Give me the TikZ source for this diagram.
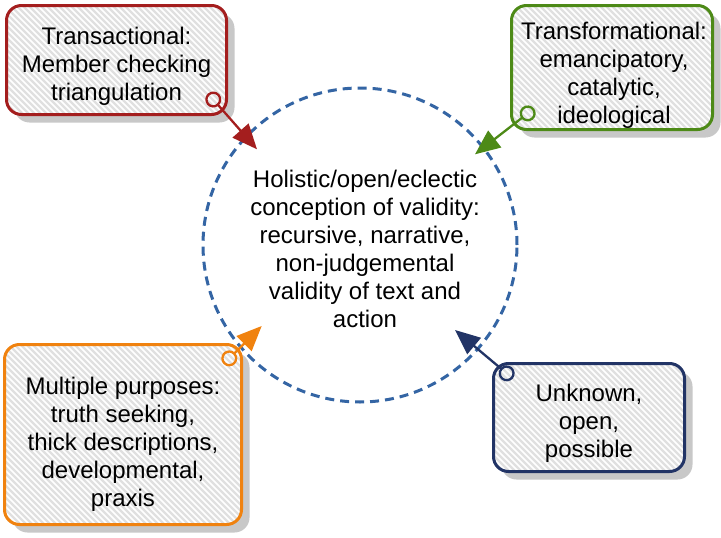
\documentclass[tikz,border=0pt]{standalone}
\usepackage{fontspec}
\setmainfont{Liberation Sans}
\usetikzlibrary{arrows.meta,positioning,calc,shadows}
\definecolor{vdred}{HTML}{A41E1E}
\definecolor{vdgreen}{HTML}{4D8A17}
\definecolor{vdorange}{HTML}{F0820F}
\definecolor{vdnavy}{HTML}{223466}
\definecolor{vdblue}{HTML}{3465A4}
\definecolor{vdhatch}{HTML}{E0E0E0}
\definecolor{vdshadow}{HTML}{C8C8C8}

\begin{document}
\begin{tikzpicture}[x=1pt,y=-1pt,
      box/.style={draw,line width=3pt,rounded corners=15pt,inner sep=0pt,fill=white,
        path picture={\foreach \k in {-200,-194,...,250}
          \draw[vdhatch,line width=2.2pt] ($(path picture bounding box.north west)+(\k,0)$) -- ++(220,220);},
        drop shadow={shadow xshift=8pt,shadow yshift=-8pt,fill=vdshadow,opacity=1}},
      txt/.style={align=center,font=\fontsize{24}{28}\selectfont},
      link/.style={{Circle[open,length=16pt]}-{Triangle[length=25pt,width=21pt]},line width=2.3pt}]
    \path[use as bounding box,fill=white] (0,0) rectangle (721,538);
    % centre: conception of validity
    \node[circle,draw=vdblue,line width=3pt,dash pattern=on 9pt off 6pt,minimum size=314pt] (valid) at (360,245) {};
    \node[txt] (validtxt) at (365,249)
      {Holistic/open/eclectic\\conception of validity:\\recursive, narrative,\\non-judgemental\\validity of text and\\action};
    % the four boxes
    \node[box,draw=vdred,minimum width=220pt,minimum height=109pt] (trans) at (116.5,60) {};
    \node[txt] (transtxt) at (116.5,66) {Transactional:\\Member checking\\triangulation};
    \node[box,draw=vdgreen,minimum width=201pt,minimum height=124pt] (transf) at (612,67.5) {};
    \node[txt] (transftxt) at (614,75) {Transformational:\\emancipatory,\\catalytic,\\ideological};
    \node[box,draw=vdorange,minimum width=237pt,minimum height=180pt] (multi) at (123,434.5) {};
    \node[txt] (multitxt) at (123,444) {Multiple purposes:\\truth seeking,\\thick descriptions,\\developmental,\\praxis};
    \node[box,draw=vdnavy,minimum width=191pt,minimum height=108pt] (unkn) at (589,417.5) {};
    \node[txt] (unkntxt) at (589,423) {Unknown,\\open,\\possible};
    % connector ends
    \coordinate (transOut) at (208,93.5);
    \coordinate (transIn) at (257,149.3);
    \coordinate (transfOut) at (534,108.5);
    \coordinate (transfIn) at (475,154.3);
    \coordinate (multiOut) at (223.6,364);
    \coordinate (multiIn) at (261.7,326);
    \coordinate (unknOut) at (512.8,378.5);
    \coordinate (unknIn) at (455,330);
    \draw[link,draw=vdred,fill=vdred] (transOut) -- (transIn);
    \draw[link,draw=vdgreen,fill=vdgreen] (transfOut) -- (transfIn);
    \draw[link,draw=vdorange,fill=vdorange] (multiOut) -- (multiIn);
    \draw[link,draw=vdnavy,fill=vdnavy] (unknOut) -- (unknIn);
  \end{tikzpicture}
\end{document}
